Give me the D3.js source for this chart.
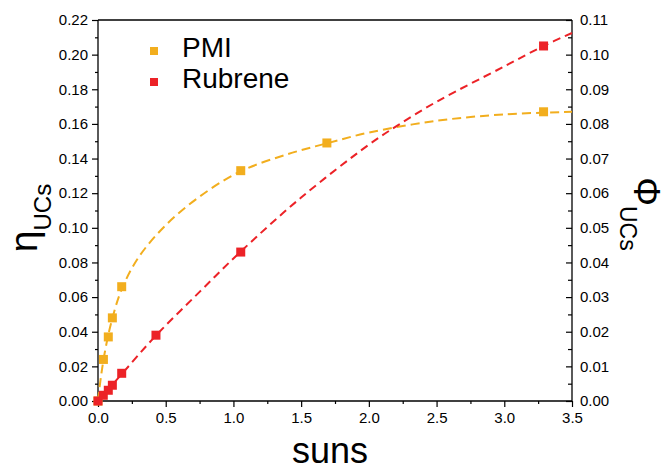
<!DOCTYPE html>
<html>
<head>
<meta charset="utf-8">
<script src="https://cdn.jsdelivr.net/npm/d3@7"></script>
<style>
  html, body { margin: 0; padding: 0; background: #fff; }
  svg { display: block; font-family: Arial, "Liberation Sans", sans-serif; }
</style>
</head>
<body>
<svg id="chart" width="667" height="471"></svg>
<script>
// ---- data ----
const seriesNames = ["PMI", "Rubrene"];
const seriesColors = ["#F2AE1E", "#EC2227"];

const pmiX = [0.0, 0.04, 0.076, 0.106, 0.175, 1.054, 1.69, 3.29];
const pmiY = [0.0, 0.024, 0.037, 0.048, 0.066, 0.133, 0.149, 0.167];

const rubX = [0.0, 0.039, 0.076, 0.106, 0.175, 0.428, 1.054, 3.29];
const rubY = [0.0, 0.0033, 0.0062, 0.0091, 0.016, 0.038, 0.086, 0.205];

// dashed fit curves
const pmiFitX = [0, 0.02, 0.05, 0.1, 0.175, 0.3, 0.5, 0.75, 1.05, 1.4, 1.7, 2.0, 2.5, 3.0, 3.5];
const pmiFitY = [0, 0.013, 0.028, 0.046, 0.0645, 0.083, 0.1015, 0.118, 0.1325, 0.1425, 0.149, 0.155, 0.1618, 0.1655, 0.167];

const rubFitX = [0, 0.175, 0.43, 0.75, 1.05, 1.5, 2.0, 2.21, 2.5, 3.0, 3.29, 3.5];
const rubFitY = [0, 0.0155, 0.038, 0.063, 0.086, 0.1175, 0.148, 0.159, 0.1728, 0.1932, 0.205, 0.2125];

const xTicks = [0, 0.5, 1.0, 1.5, 2.0, 2.5, 3.0, 3.5];
const yLeftTicks = [0, 0.02, 0.04, 0.06, 0.08, 0.10, 0.12, 0.14, 0.16, 0.18, 0.20, 0.22];
const yRightTicks = [0, 0.01, 0.02, 0.03, 0.04, 0.05, 0.06, 0.07, 0.08, 0.09, 0.10, 0.11];

// ---- layout ----
const svg = d3.select("#chart");
const L = 98, R = 572, T = 20, B = 401;

const x = d3.scaleLinear().domain([0, 3.5]).range([L, R]);
const yL = d3.scaleLinear().domain([0, 0.22]).range([B, T]);
const yR = d3.scaleLinear().domain([0, 0.11]).range([B, T]);

const tickFont = "15px";

// minor ticks
svg.append("g").attr("transform", `translate(0,${B})`)
  .call(d3.axisBottom(x).tickValues(d3.range(0.25, 3.5, 0.5)).tickSize(3).tickFormat(""))
  .call(g => g.select(".domain").remove());
svg.append("g").attr("transform", `translate(${L},0)`)
  .call(d3.axisLeft(yL).tickValues(d3.range(0.01, 0.22, 0.02)).tickSize(3).tickFormat(""))
  .call(g => g.select(".domain").remove());
svg.append("g").attr("transform", `translate(${R},0)`)
  .call(d3.axisLeft(yR).tickValues(d3.range(0.005, 0.11, 0.01)).tickSize(4).tickFormat(""))
  .call(g => g.select(".domain").remove());

// major axes
const xAxis = svg.append("g").attr("transform", `translate(0,${B})`)
  .call(d3.axisBottom(x).tickValues(xTicks).tickSize(6).tickPadding(5).tickFormat(d3.format(".1f")));
const yAxisL = svg.append("g").attr("transform", `translate(${L},0)`)
  .call(d3.axisLeft(yL).tickValues(yLeftTicks).tickSize(6).tickPadding(4).tickFormat(d3.format(".2f")));
const yAxisR = svg.append("g").attr("transform", `translate(${R},0)`)
  .call(d3.axisRight(yR).tickValues(yRightTicks).tickSizeInner(-6).tickSizeOuter(0).tickPadding(8).tickFormat(d3.format(".2f")));

svg.selectAll(".tick text").attr("font-size", tickFont).attr("fill", "#000")
  .attr("font-family", "Arial, 'Liberation Sans', sans-serif");
svg.selectAll(".tick line").attr("stroke", "#000").attr("stroke-width", 1.2);
svg.selectAll(".domain").attr("stroke", "#000").attr("stroke-width", 1.3);
yAxisR.select(".domain").attr("d", `M0,${T}V${B}`);
xAxis.select(".domain").attr("d", `M${L},0H${R}`);
yAxisL.select(".domain").attr("d", `M0,${T}V${B}`);

// top frame
svg.append("line").attr("x1", L).attr("x2", R).attr("y1", T).attr("y2", T)
  .attr("stroke", "#000").attr("stroke-width", 1.3);

// ---- fit curves ----
const lineGen = d3.line().x(d => x(d[0])).y(d => yL(d[1])).curve(d3.curveCatmullRom.alpha(0.5));
const fits = [
  { xs: pmiFitX, ys: pmiFitY, color: seriesColors[0], dash: "9,5" },
  { xs: rubFitX, ys: rubFitY, color: seriesColors[1], dash: "8,5" }
];
fits.forEach(f => {
  svg.append("path")
    .datum(f.xs.map((v, i) => [v, f.ys[i]]))
    .attr("d", lineGen)
    .attr("fill", "none")
    .attr("stroke", f.color)
    .attr("stroke-width", 2)
    .attr("stroke-dasharray", f.dash);
});

// ---- points ----
const sz = 9;
const pts = [
  { xs: pmiX, ys: pmiY, color: seriesColors[0] },
  { xs: rubX, ys: rubY, color: seriesColors[1] }
];
pts.forEach(p => {
  svg.append("g").selectAll("rect")
    .data(p.xs.map((v, i) => [v, p.ys[i]]))
    .join("rect")
    .attr("x", d => x(d[0]) - sz / 2)
    .attr("y", d => yL(d[1]) - sz / 2)
    .attr("width", sz).attr("height", sz)
    .attr("fill", p.color);
});

// ---- legend ----
const legend = svg.append("g");
seriesNames.forEach((name, i) => {
  const cy = 51 + i * 31;
  legend.append("rect").attr("x", 150).attr("y", cy - 4).attr("width", 8).attr("height", 8)
    .attr("fill", seriesColors[i]);
  legend.append("text").attr("x", 182).attr("y", cy + 6).attr("font-size", "28px")
    .attr("fill", "#000").text(name);
});

// ---- axis titles ----
svg.append("text").attr("x", 330).attr("y", 463).attr("text-anchor", "middle")
  .attr("font-size", "36px").attr("fill", "#000").text("suns");

const tl = svg.append("text").attr("transform", "translate(37,218) rotate(-90)")
  .attr("text-anchor", "middle").attr("fill", "#000");
tl.append("tspan").attr("font-size", "39px").text("η");
tl.append("tspan").attr("font-size", "24px").attr("dy", 14).text("UCs");

const tr = svg.append("text").attr("transform", "translate(634,214) rotate(90)")
  .attr("text-anchor", "middle").attr("fill", "#000");
tr.append("tspan").attr("font-size", "36px").text("Φ");
tr.append("tspan").attr("font-size", "23px").attr("dy", 14).text("UCs");
</script>
</body>
</html>
